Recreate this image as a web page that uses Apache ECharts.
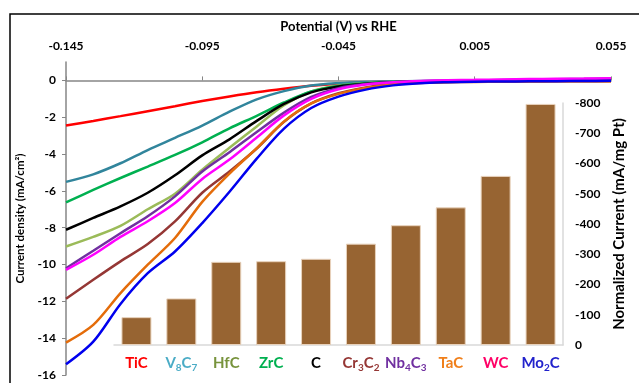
<!DOCTYPE html>
<html>
<head>
<meta charset="utf-8">
<script src="https://cdn.jsdelivr.net/npm/echarts@6/dist/echarts.min.js"></script>
<style>
  html, body { margin: 0; padding: 0; background: #fff; }
  #chart { width: 639px; height: 383px; }
</style>
</head>
<body>
<div id="chart"></div>
<script>
// potential (V vs RHE), one point every 10 mV
const potential = [-0.145, -0.135, -0.125, -0.115, -0.105, -0.095, -0.085, -0.075, -0.065, -0.055,
  -0.045, -0.035, -0.025, -0.015, -0.005, 0.005, 0.015, 0.025, 0.035, 0.045, 0.055];

const tic   = [-2.45, -2.20, -1.94, -1.67, -1.40, -1.12, -0.87, -0.64, -0.45, -0.29, -0.18, -0.11, -0.07, -0.05, -0.04, -0.03, -0.03, -0.02, -0.02, -0.01, -0.01];
const v8c7  = [-5.51, -5.10, -4.50, -3.78, -3.12, -2.45, -1.70, -1.03, -0.58, -0.28, -0.15, -0.08, -0.05, -0.03, -0.02, -0.01, 0.00, 0.01, 0.02, 0.03, 0.04];
const hfc   = [-9.02, -8.50, -7.90, -7.00, -6.15, -4.85, -3.66, -2.50, -1.35, -0.60, -0.28, -0.15, -0.09, -0.06, -0.04, -0.03, -0.02, -0.01, 0.00, 0.01, 0.02];
const zrc   = [-6.62, -5.95, -5.30, -4.68, -4.05, -3.36, -2.60, -1.92, -1.20, -0.60, -0.30, -0.16, -0.09, -0.06, -0.04, -0.03, -0.02, -0.01, 0.00, 0.00, 0.01];
const carb  = [-8.11, -7.47, -6.84, -6.10, -5.15, -4.07, -3.20, -2.20, -1.28, -0.65, -0.33, -0.18, -0.10, -0.06, -0.04, -0.03, -0.02, -0.01, 0.00, 0.00, 0.01];
const cr3c2 = [-11.86, -10.83, -9.83, -8.89, -7.66, -6.10, -4.95, -3.70, -2.25, -1.25, -0.70, -0.38, -0.20, -0.12, -0.08, -0.07, -0.06, -0.05, -0.05, -0.04, -0.04];
const nb4c3 = [-10.20, -9.25, -8.30, -7.38, -6.30, -4.95, -3.90, -2.80, -1.75, -0.90, -0.42, -0.20, -0.10, -0.05, -0.02, 0.00, 0.02, 0.04, 0.06, 0.08, 0.10];
const tac   = [-14.24, -13.28, -11.55, -10.01, -8.56, -6.60, -5.06, -3.68, -2.23, -1.25, -0.73, -0.41, -0.22, -0.14, -0.10, -0.08, -0.07, -0.06, -0.05, -0.05, -0.04];
const wc    = [-10.29, -9.47, -8.50, -7.65, -6.66, -5.35, -4.30, -3.10, -1.90, -1.00, -0.48, -0.22, -0.10, -0.03, 0.01, 0.03, 0.05, 0.07, 0.09, 0.10, 0.12];
const mo2c  = [-15.42, -14.19, -12.14, -10.47, -9.29, -7.75, -6.05, -4.25, -2.62, -1.50, -0.88, -0.50, -0.27, -0.15, -0.10, -0.07, -0.06, -0.05, -0.04, -0.03, -0.02];

// bar inset: normalized current (mA/mg Pt)
const materials = ['TiC', 'V8C7', 'HfC', 'ZrC', 'C', 'Cr3C2', 'Nb4C3', 'TaC', 'WC', 'Mo2C'];
const normCurrent = [-92, -154, -275, -277, -285, -335, -396, -455, -559, -797];

const lineColors = ['#FF0000', '#31859C', '#9BBB59', '#00B050', '#000000', '#953735', '#7030A0', '#E46C0A', '#FF00FF', '#0000EE'];
const labelColors = ['#FF0000', '#4BACC6', '#77933C', '#00B050', '#000000', '#953735', '#7030A0', '#F07F1A', '#FF0066', '#2222CC'];
const curves = [tic, v8c7, hfc, zrc, carb, cr3c2, nb4c3, tac, wc, mo2c];

const X0 = -0.145; // axis starts here, ticks every 0.05 from it
const FONT = 'Lato';

var chart = echarts.init(document.getElementById('chart'));

var rich = {};
labelColors.forEach(function (col, i) {
  rich['m' + i] = { color: col, fontSize: 15, fontWeight: 'bold', fontFamily: FONT, lineHeight: 20 };
  rich['s' + i] = { color: col, fontSize: 10, fontWeight: 'bold', fontFamily: FONT, lineHeight: 10, verticalAlign: 'bottom' };
});

function catLabel(name, idx) {
  // digits become subscripts
  var out = '';
  name.match(/[A-Za-z]+|\d+/g).forEach(function (p) {
    var k = /\d/.test(p) ? 's' : 'm';
    out += '{' + k + idx + '|' + p + '}';
  });
  return out;
}

var series = curves.map(function (vals, i) {
  return {
    name: materials[i],
    type: 'line',
    xAxisIndex: 0,
    yAxisIndex: 0,
    showSymbol: false,
    symbol: 'none',
    smooth: 0.3,
    lineStyle: { color: lineColors[i], width: 2.5 },
    data: vals.map(function (v, j) { return [potential[j] - X0, v]; })
  };
});

series.push({
  name: 'Normalized',
  type: 'bar',
  xAxisIndex: 1,
  yAxisIndex: 1,
  barWidth: 30,
  itemStyle: { color: '#976432', borderColor: '#E8D2BC', borderWidth: 1 },
  data: normCurrent
});

var option = {
  animation: false,
  backgroundColor: '#fff',
  textStyle: { fontFamily: FONT },
  grid: [
    { left: 66, right: 28, top: 62, bottom: 8 },
    { left: 114, right: 76, top: 103, bottom: 38 }
  ],
  xAxis: [
    {
      type: 'value',
      gridIndex: 0,
      position: 'top',
      min: 0,
      max: 0.2,
      interval: 0.05,
      name: 'Potential (V) vs RHE',
      nameLocation: 'middle',
      nameGap: 29,
      nameTextStyle: { color: '#000', fontSize: 13, fontWeight: 'bold', fontFamily: FONT },
      axisLine: { show: true, lineStyle: { color: '#868686', width: 1.5 } },
      axisTick: { show: true, length: 4, lineStyle: { color: '#868686' } },
      axisLabel: {
        color: '#000', fontSize: 12, fontWeight: 'bold', margin: 10,
        formatter: function (v) { return (v + X0).toFixed(3); }
      },
      splitLine: { show: false }
    },
    {
      type: 'category',
      gridIndex: 1,
      position: 'bottom',
      data: materials,
      axisLine: { show: true, lineStyle: { color: '#D9D9D9', width: 1.5 } },
      axisTick: { show: false },
      axisLabel: {
        margin: 8,
        interval: 0,
        formatter: function (v, idx) { return catLabel(v, idx); },
        rich: rich
      }
    }
  ],
  yAxis: [
    {
      type: 'value',
      gridIndex: 0,
      min: -16,
      max: 1,
      interval: 2,
      name: 'Current density (mA/cm²)',
      nameLocation: 'middle',
      nameGap: 39,
      nameTextStyle: { color: '#000', fontSize: 11.5, fontWeight: 'bold', fontFamily: FONT },
      axisLine: { show: true, lineStyle: { color: '#868686', width: 1.5 } },
      axisTick: { show: true, length: 4, lineStyle: { color: '#868686' } },
      axisLabel: { color: '#000', fontSize: 12, fontWeight: 'bold', margin: 10, showMaxLabel: false },
      splitLine: { show: false }
    },
    {
      type: 'value',
      gridIndex: 1,
      position: 'right',
      min: -800,
      max: 0,
      interval: 100,
      inverse: true,
      name: 'Normalized Current (mA/mg Pt)',
      nameLocation: 'middle',
      nameRotate: 90,
      nameGap: 49,
      nameTextStyle: { color: '#000', fontSize: 15, fontWeight: 'bold', fontFamily: FONT },
      axisLine: { show: true, lineStyle: { color: '#D9D9D9', width: 1.5 } },
      axisTick: { show: false },
      axisLabel: { color: '#000', fontSize: 12, fontWeight: 'bold', margin: 12 },
      splitLine: { show: false }
    }
  ],
  graphic: [
    {
      type: 'rect',
      shape: { x: 10, y: 14, width: 700, height: 500 },
      style: { fill: 'none', stroke: '#000', lineWidth: 1.5 },
      silent: true
    }
  ],
  series: series
};

chart.setOption(option);
</script>
</body>
</html>
